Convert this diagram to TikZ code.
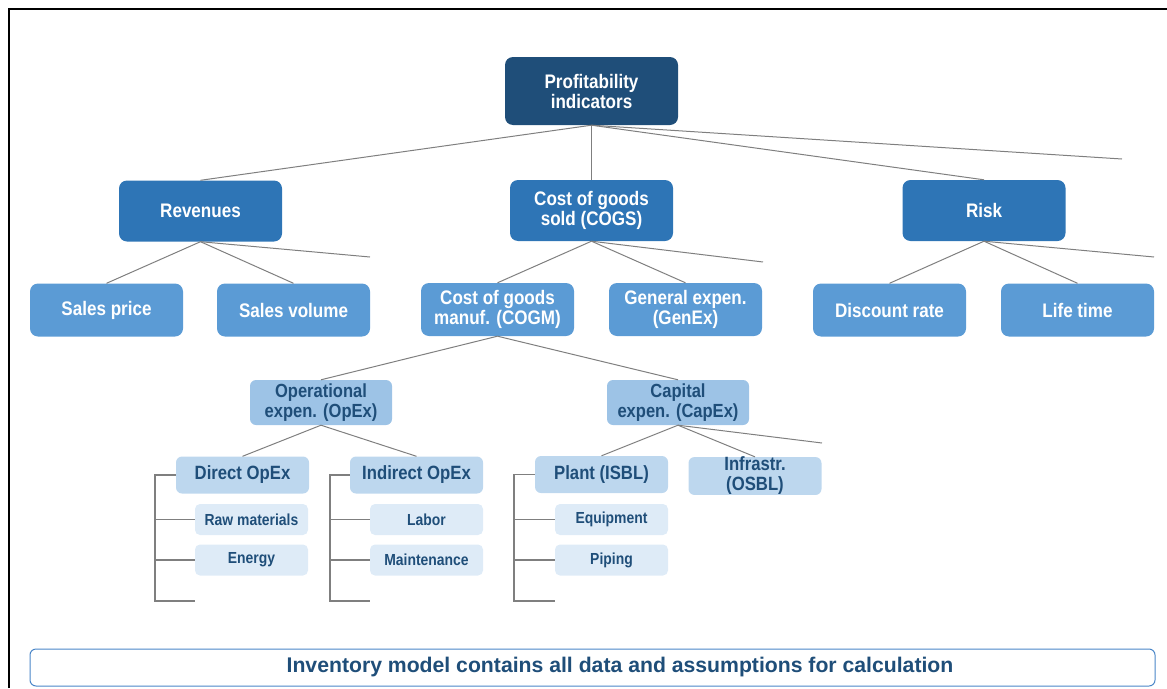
\documentclass[tikz,border=0pt]{standalone}
\usepackage{fontspec}
\setmainfont{Liberation Sans}[FakeStretch=0.87]
\newfontfamily\bannerfont{Liberation Sans}
\definecolor{cA}{HTML}{1F4E79}
\definecolor{cB}{HTML}{2E75B6}
\definecolor{cC}{HTML}{5B9BD5}
\definecolor{cD}{HTML}{9DC3E6}
\definecolor{cE}{HTML}{BDD7EE}
\definecolor{cF}{HTML}{DEEBF7}
\definecolor{txtdark}{HTML}{1F4E79}
\definecolor{conncol}{HTML}{7F7F7F}
\definecolor{bannerline}{HTML}{4A86C8}
\begin{document}
\begin{tikzpicture}[x=1pt,y=-1pt,
  box/.style={rounded corners=8pt, inner sep=0pt, align=center, font=\bfseries\fontsize{19.6}{20}\selectfont},
  lvA/.style={box, fill=cA, text=white, minimum width=173pt, minimum height=68pt},
  lvB/.style={box, fill=cB, text=white, minimum width=163pt, minimum height=61pt},
  lvC/.style={box, fill=cC, text=white, minimum width=153pt, minimum height=53pt},
  lvD/.style={box, rounded corners=6pt, fill=cD, text=txtdark, minimum width=142pt, minimum height=45pt, font=\bfseries\fontsize{19}{20.5}\selectfont},
  lvE/.style={box, rounded corners=6pt, fill=cE, text=txtdark, minimum width=133pt, minimum height=37pt, font=\bfseries\fontsize{19.2}{20}\selectfont},
  lvF/.style={box, rounded corners=5pt, fill=cF, text=txtdark, minimum width=113pt, minimum height=31pt, font=\bfseries\fontsize{16}{17}\selectfont},
  conn/.style={draw=conncol, line width=1pt},
  brk/.style={draw=conncol, line width=1.3pt}
]
\useasboundingbox (0,0) rectangle (1167,688);
\draw[line width=2pt] (9,688) -- (9,9) -- (1167,9);

% nodes
\node[lvA] (prof) at (591.5,91) {Profitability\\indicators};
\node[lvB] (rev) at (200.5,211) {Revenues};
\node[lvB] (cogs) at (591.5,210.5) {Cost of goods\\sold (COGS)};
\node[lvB] (risk) at (984,210.5) {Risk};
\node[lvC] (sp) at (106.5,310) {Sales price};
\node[lvC] (sv) at (293.5,310) {Sales volume};
\node[lvC] (cogm) at (497.5,309.5) {Cost of goods\\manuf. (COGM)};
\node[lvC] (genex) at (685.5,309.5) {General expen.\\(GenEx)};
\node[lvC] (disc) at (889.5,310) {Discount rate};
\node[lvC] (life) at (1077.5,310) {Life time};
\node[lvD] (opex) at (321,402.5) {Operational\\expen. (OpEx)};
\node[lvD] (capex) at (678,402.5) {Capital\\expen. (CapEx)};
\node[lvE] (dir) at (242.5,475) {Direct OpEx};
\node[lvE] (ind) at (416.5,475) {Indirect OpEx};
\node[lvE] (plant) at (601.5,474.5) {Plant (ISBL)};
\node[lvE] (infra) at (755,476) {Infrastr.\\(OSBL)};
\node[lvF] (raw) at (251.5,519.5) {Raw materials};
\node[lvF] (energy) at (251.5,560) {Energy};
\node[lvF] (labor) at (426.5,519.5) {Labor};
\node[lvF] (maint) at (426.5,560) {Maintenance};
\node[lvF] (equip) at (611.5,519.5) {Equipment};
\node[lvF] (piping) at (611.5,560) {Piping};

% dangling ends
\coordinate (dA) at (1122,159);
\coordinate (dB) at (370,257);
\coordinate (dC) at (763,262);
\coordinate (dD) at (1154,257);
\coordinate (dE) at (822,443);

% tree connectors
\draw[conn] (prof.south) -- (rev.north);
\draw[conn] (prof.south) -- (cogs.north);
\draw[conn] (prof.south) -- (risk.north);
\draw[conn] (prof.south) -- (dA);
\draw[conn] (rev.south) -- (sp.north);
\draw[conn] (rev.south) -- (sv.north);
\draw[conn] (rev.south) -- (dB);
\draw[conn] (cogs.south) -- (cogm.north);
\draw[conn] (cogs.south) -- (genex.north);
\draw[conn] (cogs.south) -- (dC);
\draw[conn] (risk.south) -- (disc.north);
\draw[conn] (risk.south) -- (life.north);
\draw[conn] (risk.south) -- (dD);
\draw[conn] (cogm.south) -- (opex.north);
\draw[conn] (cogm.south) -- (capex.north);
\draw[conn] (opex.south) -- (dir.north);
\draw[conn] (opex.south) -- (ind.north);
\draw[conn] (capex.south) -- (plant.north);
\draw[conn] (capex.south) -- (infra.north);
\draw[conn] (capex.south) -- (dE);

% brackets
\coordinate (b1t) at (155,475); \coordinate (b1b) at (155,601); \coordinate (b1e) at (195,601);
\draw[brk] (dir.west) -- (b1t) -- (b1b) -- (b1e);
\draw[brk] (raw.west) -- (raw.west -| b1t);
\draw[brk] (energy.west) -- (energy.west -| b1t);
\coordinate (b2t) at (330,475); \coordinate (b2b) at (330,601); \coordinate (b2e) at (370,601);
\draw[brk] (ind.west) -- (b2t) -- (b2b) -- (b2e);
\draw[brk] (labor.west) -- (labor.west -| b2t);
\draw[brk] (maint.west) -- (maint.west -| b2t);
\coordinate (b3t) at (514,474.5); \coordinate (b3b) at (514,601); \coordinate (b3e) at (555,601);
\draw[brk] (plant.west) -- (b3t) -- (b3b) -- (b3e);
\draw[brk] (equip.west) -- (equip.west -| b3t);
\draw[brk] (piping.west) -- (piping.west -| b3t);

% banner
\node[draw=bannerline, line width=1pt, rounded corners=6pt, fill=white, minimum width=1125pt, minimum height=37pt, inner sep=0pt] (banner) at (592.5,667.5) {};
\node[inner sep=0pt, text=txtdark, font=\bannerfont\bfseries\fontsize{21.2}{22}\selectfont] (bannertext) at (620,667.5) {Inventory model contains all data and assumptions for calculation};
\end{tikzpicture}
\end{document}
